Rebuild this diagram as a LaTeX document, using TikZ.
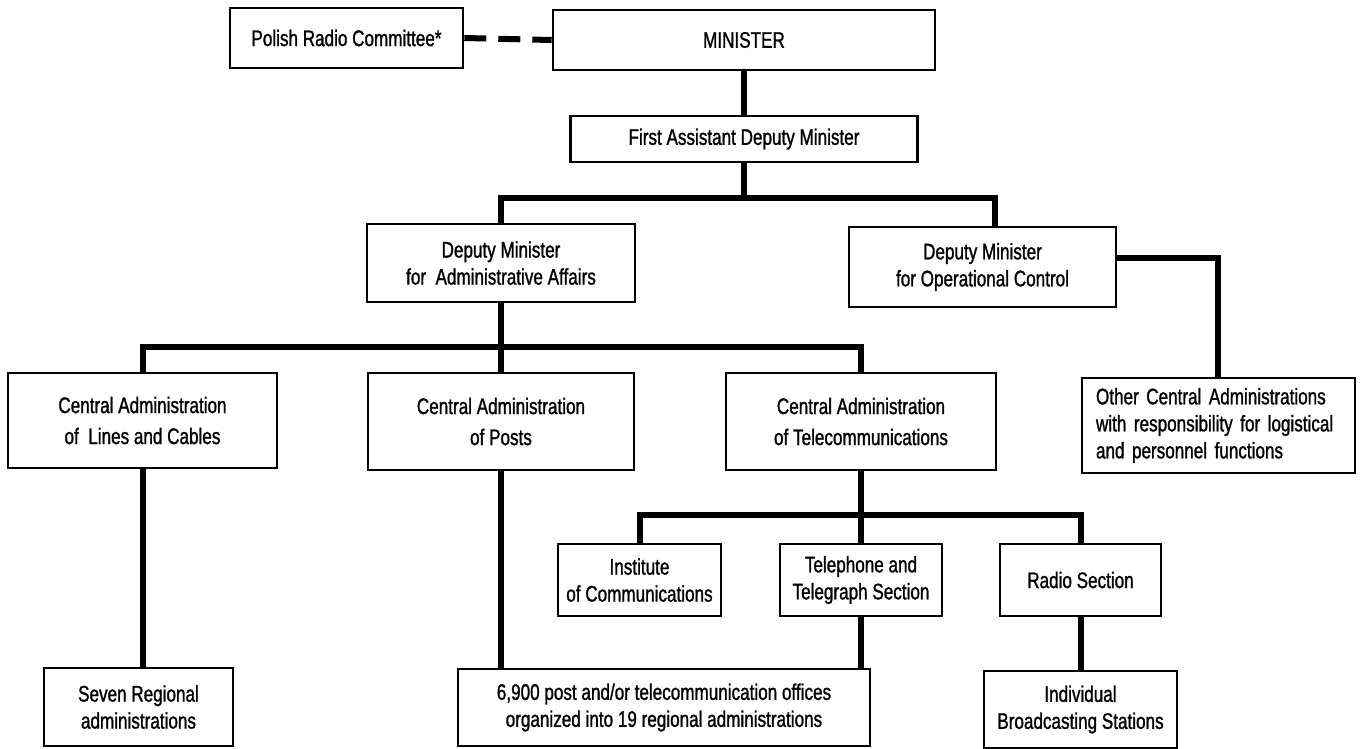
\documentclass[tikz,border=0pt]{standalone}
\usepackage{fontspec}
\setmainfont{Liberation Sans}[FakeStretch=0.76, FakeBold=1.2]
\begin{document}
\begin{tikzpicture}[x=1pt,y=-1pt,
  box/.style={draw, line width=2.6pt, inner sep=0pt, align=center,
    font=\fontsize{22.5pt}{27pt}\selectfont},
  conn/.style={line width=6pt, line join=miter},
  dashconn/.style={line width=6pt, dash pattern=on 22pt off 12pt}]
\fill[white] (0,0) rectangle (1360,748);
\useasboundingbox (0,0) rectangle (1360,748);
% nodes
\node[box, minimum width=233pt, minimum height=60pt] (polish) at (346.5,38) {Polish Radio Committee*};
\node[box, minimum width=382pt, minimum height=60pt] (minister) at (744,40) {MINISTER};
\node[box, minimum width=347pt, minimum height=46pt] (fadm) at (744,139) {First Assistant Deputy Minister};
\node[box, minimum width=268pt, minimum height=78pt] (dma) at (501,263) {Deputy Minister\\for \ Administrative Affairs};
\node[box, minimum width=267pt, minimum height=80pt] (dmo) at (982.5,267) {Deputy Minister\\for Operational Control};
\node[box, minimum width=269pt, minimum height=95pt, font=\fontsize{22.5pt}{31pt}\selectfont] (lines) at (142.5,420.5) {Central Administration\\of \ Lines and Cables};
\node[box, minimum width=266pt, minimum height=97pt, font=\fontsize{22.5pt}{31pt}\selectfont] (posts) at (501,421.5) {Central Administration\\of Posts};
\node[box, minimum width=270pt, minimum height=97pt, font=\fontsize{22.5pt}{31pt}\selectfont] (tele) at (861,421.5) {Central Administration\\of Telecommunications};
\node[box, minimum width=273pt, minimum height=95pt, align=left, text width=245pt, font=\fontsize{22.5pt}{27pt}\selectfont] (other) at (1218.5,425.5) {Other Central Administrations\\with responsibility for logistical\\and personnel functions};
\node[box, minimum width=163pt, minimum height=72pt] (inst) at (639.5,580) {Institute\\of Communications};
\node[box, minimum width=162pt, minimum height=72pt] (telph) at (861,580) {Telephone and\\Telegraph Section};
\node[box, minimum width=161pt, minimum height=72pt] (radio) at (1080.5,580) {Radio Section};
\node[box, minimum width=189pt, minimum height=78pt] (seven) at (138.5,707) {Seven Regional\\administrations};
\node[box, minimum width=412pt, minimum height=77pt] (offices) at (664,707.5) {6,900 post and/or telecommunication offices\\organized into 19 regional administrations};
\node[box, minimum width=193pt, minimum height=77pt] (indiv) at (1080.5,709.5) {Individual\\Broadcasting Stations};
% helper coordinates
\coordinate (b1) at (744,198);
\coordinate (b1r) at (995,198);
\coordinate (oc) at (1218,258);
\coordinate (b2) at (501,347);
\coordinate (b3) at (861,515);
% connectors
\draw[dashconn] (polish.east) -- (minister.west);
\draw[conn] (minister.south) -- (fadm.north);
\draw[conn] (fadm.south) -- (b1);
\draw[conn] (dma.north) -- (dma.north |- b1) -- (b1r) -- (dmo.north -| b1r);
\draw[conn] (dmo.east |- oc) -- (oc) -- (other.north -| oc);
\draw[conn] (dma.south) -- (posts.north);
\draw[conn] (lines.north) -- (lines.north |- b2) -- (tele.north |- b2) -- (tele.north);
\draw[conn] (lines.south) -- (lines.south |- seven.north);
\draw[conn] (posts.south) -- (posts.south |- offices.north);
\draw[conn] (tele.south) -- (telph.north);
\draw[conn] (inst.north) -- (inst.north |- b3) -- (radio.north |- b3) -- (radio.north);
\draw[conn] (telph.south) -- (telph.south |- offices.north);
\draw[conn] (radio.south) -- (indiv.north);
\end{tikzpicture}
\end{document}
